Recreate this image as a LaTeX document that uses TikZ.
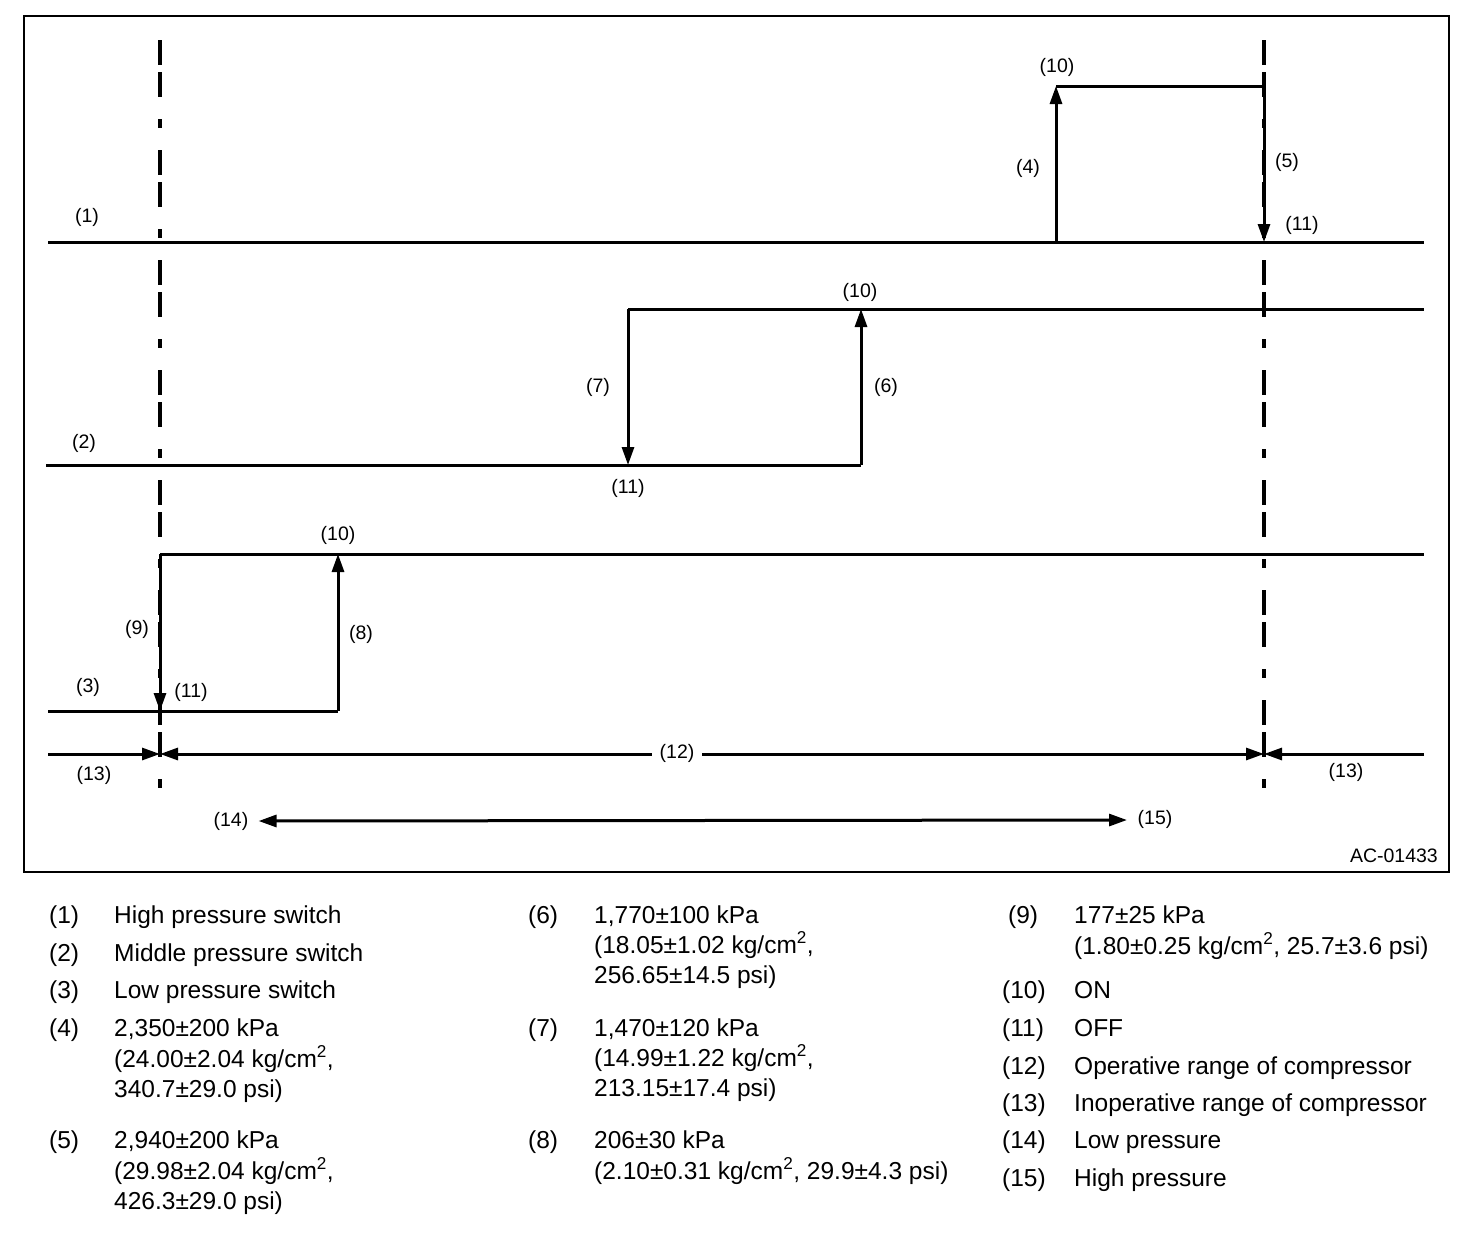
\documentclass[tikz,border=0pt]{standalone}
\usepackage{fontspec}
\setmainfont{Liberation Sans}
\usetikzlibrary{arrows.meta}

\begin{document}
\begin{tikzpicture}[x=1pt,y=-1pt,
    trace/.style={line width=3pt},
    tipped/.style={trace, -{Triangle[length=18pt,width=12pt]}},
    bothtips/.style={trace, {Triangle[length=18pt,width=12pt]}-{Triangle[length=18pt,width=12pt]}},
    axis/.style={line width=3.2pt, dash pattern=on 25pt off 7pt on 25pt off 22pt on 9pt off 22pt},
    lbl/.style={font=\fontsize{19.5}{22}\selectfont, inner sep=1pt},
    key/.style={font=\fontsize{24.5}{30.5}\selectfont, anchor=base west, inner sep=0pt}]
    \useasboundingbox (0,0) rectangle (1472,1232);
    \draw[line width=2pt] (24,16) rectangle (1449,872);

    % switch points
    \coordinate (hsL) at (48,242);   \coordinate (hsR) at (1424,242);
    \coordinate (hsOn) at (1056,242); \coordinate (hsOnT) at (1056,86);
    \coordinate (hsOffT) at (1264,86); \coordinate (hsOff) at (1264,242);
    \coordinate (msL) at (46,465);   \coordinate (msOn) at (861,465);
    \coordinate (msOnT) at (861,309); \coordinate (msOffT) at (628,309);
    \coordinate (msOff) at (628,465); \coordinate (msR) at (1424,309);
    \coordinate (lsL) at (48,711);   \coordinate (lsOn) at (338,711);
    \coordinate (lsOnT) at (338,554); \coordinate (lsOffT) at (160,554);
    \coordinate (lsOff) at (160,711); \coordinate (lsR) at (1424,554);

    % range markers
    \draw[axis] (160,40) -- (160,802);
    \draw[axis] (1264,40) -- (1264,806);

    % high pressure switch
    \draw[trace] (hsL) -- (hsR);
    \draw[tipped] (hsOn) -- (hsOnT);
    \draw[trace] (hsOnT) -- (hsOffT);
    \draw[tipped] (hsOffT) -- (hsOff);

    % middle pressure switch
    \draw[trace] (msL) -- (msOn);
    \draw[tipped] (msOn) -- (msOnT);
    \draw[trace] (msOffT) -- (msR);
    \draw[tipped] (msOffT) -- (msOff);

    % low pressure switch
    \draw[trace] (lsL) -- (lsOn);
    \draw[tipped] (lsOn) -- (lsOnT);
    \draw[trace] (lsOffT) -- (lsR);
    \draw[tipped] (lsOffT) -- (lsOff);

    % compressor ranges
    \coordinate (rgL) at (48,754);   \coordinate (rgA) at (160,754);
    \coordinate (rgB) at (1264,754); \coordinate (rgR) at (1424,754);
    \draw[tipped] (rgL) -- (rgA);
    \draw[bothtips] (rgA) -- (rgB);
    \draw[tipped] (rgR) -- (rgB);
    \node[lbl, fill=white, inner sep=8pt] (n12) at (677,753) {(12)};

    \node[lbl] (n14) at (231,821) {(14)};
    \node[lbl] (n15) at (1155,819) {(15)};
    \draw[bothtips] (n14.east) ++(9,0) coordinate (pL) -- (1127,820) coordinate (pR);

    % labels
    \node[lbl] at (87,217) {(1)};
    \node[lbl] at (1028,168) {(4)};
    \node[lbl] at (1287,162) {(5)};
    \node[lbl] at (1057,67) {(10)};
    \node[lbl] at (1302,225) {(11)};
    \node[lbl] at (84,443) {(2)};
    \node[lbl] at (598,387) {(7)};
    \node[lbl] at (886,387) {(6)};
    \node[lbl] at (860,292) {(10)};
    \node[lbl] at (628,488) {(11)};
    \node[lbl] at (88,687) {(3)};
    \node[lbl] at (137,629) {(9)};
    \node[lbl] at (361,634) {(8)};
    \node[lbl] at (338,535) {(10)};
    \node[lbl] at (191,692) {(11)};
    \node[lbl] at (94,775) {(13)};
    \node[lbl] at (1346,772) {(13)};
    \node[lbl, anchor=east] (code) at (1439,856) {AC-01433};

    % legend
    \node[key] (k1) at (49,923) {(1)};   \node[key] (t1) at (114,923) {High pressure switch};
    \node[key] (k2) at (49,961) {(2)};   \node[key] (t2) at (114,961) {Middle pressure switch};
    \node[key] (k3) at (49,998) {(3)};   \node[key] (t3) at (114,998) {Low pressure switch};
    \node[key] (k4) at (49,1036) {(4)};  \node[key] (t4) at (114,1036) {2,350±200 kPa};
    \node[key] (t4b) at (114,1067) {(24.00±2.04 kg/cm\textsuperscript{2},};
    \node[key] (t4c) at (114,1097) {340.7±29.0 psi)};
    \node[key] (k5) at (49,1148) {(5)};  \node[key] (t5) at (114,1148) {2,940±200 kPa};
    \node[key] (t5b) at (114,1179) {(29.98±2.04 kg/cm\textsuperscript{2},};
    \node[key] (t5c) at (114,1209) {426.3±29.0 psi)};
    \node[key] (k6) at (528,923) {(6)};  \node[key] (t6) at (594,923) {1,770±100 kPa};
    \node[key] (t6b) at (594,953) {(18.05±1.02 kg/cm\textsuperscript{2},};
    \node[key] (t6c) at (594,983) {256.65±14.5 psi)};
    \node[key] (k7) at (528,1036) {(7)}; \node[key] (t7) at (594,1036) {1,470±120 kPa};
    \node[key] (t7b) at (594,1066) {(14.99±1.22 kg/cm\textsuperscript{2},};
    \node[key] (t7c) at (594,1096) {213.15±17.4 psi)};
    \node[key] (k8) at (528,1148) {(8)}; \node[key] (t8) at (594,1148) {206±30 kPa};
    \node[key] (t8b) at (594,1179) {(2.10±0.31 kg/cm\textsuperscript{2}, 29.9±4.3 psi)};
    \node[key] (k9) at (1008,923) {(9)}; \node[key] (t9) at (1074,923) {177±25 kPa};
    \node[key] (t9b) at (1074,954) {(1.80±0.25 kg/cm\textsuperscript{2}, 25.7±3.6 psi)};
    \node[key] (k10) at (1002,998) {(10)}; \node[key] (t10) at (1074,998) {ON};
    \node[key] (k11) at (1002,1036) {(11)}; \node[key] (t11) at (1074,1036) {OFF};
    \node[key] (k12) at (1002,1074) {(12)}; \node[key] (t12) at (1074,1074) {Operative range of compressor};
    \node[key] (k13) at (1002,1111) {(13)}; \node[key] (t13) at (1074,1111) {Inoperative range of compressor};
    \node[key] (k14) at (1002,1148) {(14)}; \node[key] (t14) at (1074,1148) {Low pressure};
    \node[key] (k15) at (1002,1186) {(15)}; \node[key] (t15) at (1074,1186) {High pressure};
\end{tikzpicture}
\end{document}
